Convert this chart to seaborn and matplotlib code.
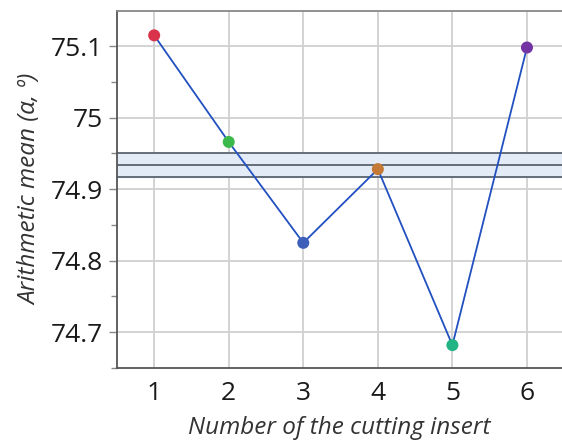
import numpy as np
import pandas as pd
import matplotlib
matplotlib.use("Agg")
import matplotlib.pyplot as plt
import seaborn as sns

inserts = [1, 2, 3, 4, 5, 6]
means = [75.115, 74.966, 74.825, 74.928, 74.682, 75.098]
point_colors = ["#d8334a", "#3cb94c", "#3d5fba", "#c47a35", "#22b484", "#7433a3"]
band_center = 74.934
band_low = 74.917
band_high = 74.951

sns.set_style("white")
plt.rcParams['font.family'] = ['Open Sans', 'DejaVu Sans']

df = pd.DataFrame({"insert": inserts, "mean": means})

fig = plt.figure(figsize=(5.62, 4.41), dpi=100)
ax = fig.add_axes([0.208, 0.1655, 0.792, 0.8095])

ax.set_xlim(0.5, 6.47)
ax.set_ylim(74.65, 75.149)

ax.axhspan(band_low, band_high, color="#e3ebf6", zorder=1)
for yv in (band_low, band_center, band_high):
    ax.axhline(yv, color="#5a6472", lw=1.3, zorder=2)

ax.set_xticks(inserts)
ax.set_yticks([74.7, 74.8, 74.9, 75.0, 75.1])
ax.set_yticklabels(["74.7", "74.8", "74.9", "75", "75.1"])
ax.set_yticks([74.65, 74.75, 74.85, 74.95, 75.05], minor=True)
ax.grid(True, which="major", color="#d0d0d0", lw=1.3, zorder=0)
ax.set_axisbelow(True)

sns.lineplot(data=df, x="insert", y="mean", ax=ax, color="#2150c0", lw=1.3, zorder=3)
sns.scatterplot(data=df, x="insert", y="mean", ax=ax, hue="insert",
                palette=point_colors, s=75, edgecolor="none", legend=False, zorder=4)

for side in ("left", "bottom"):
    ax.spines[side].set_color("#555555")
    ax.spines[side].set_linewidth(1.3)
ax.spines["top"].set_color("#888888")
ax.spines["top"].set_linewidth(1.3)
ax.spines["right"].set_visible(False)

ax.tick_params(axis="y", which="major", left=True, length=6, width=1, color="#888888",
               labelsize=19, labelcolor="#1a1a1a", pad=4)
ax.tick_params(axis="y", which="minor", left=True, length=4, width=1, color="#888888")
ax.tick_params(axis="x", bottom=False, labelsize=19, labelcolor="#1a1a1a", pad=6)

ax.set_xlabel("Number of the cutting insert", fontsize=17.5, fontstyle="italic",
              color="#333333", labelpad=7)
ax.set_ylabel("Arithmetic mean (α, º)", fontsize=17.5, fontstyle="italic",
              color="#333333", labelpad=6)

fig.savefig("out.png", dpi=100)
